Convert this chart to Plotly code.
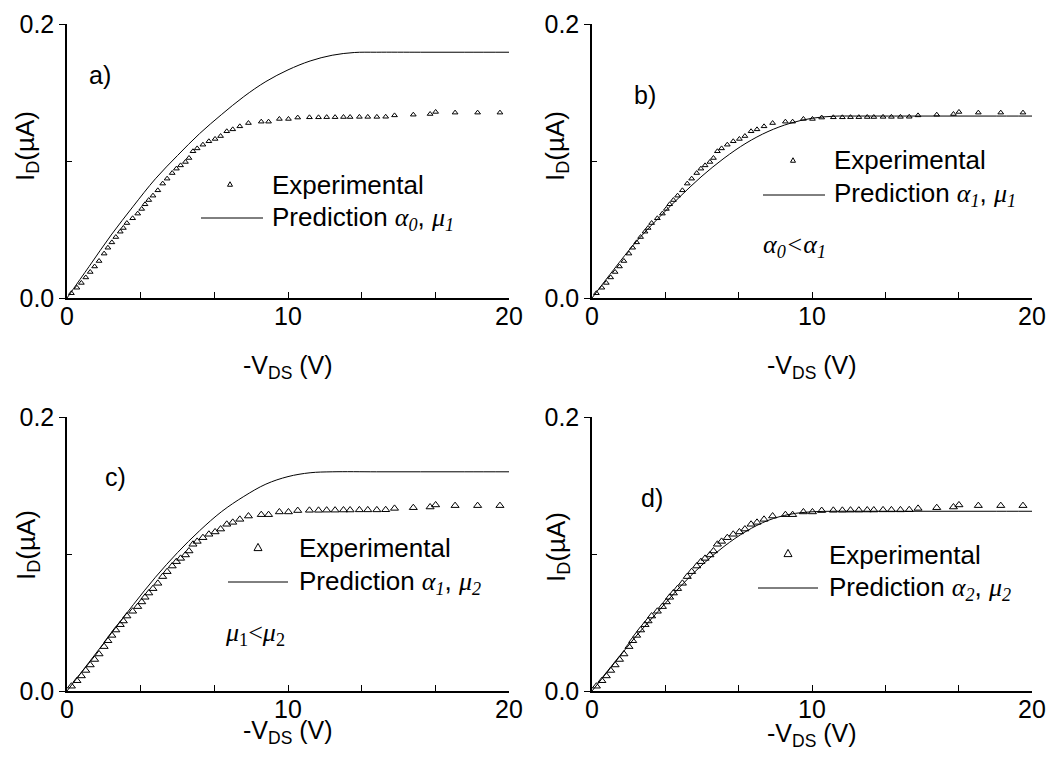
import plotly.graph_objects as go

W, H = 1064, 760

# ---------------- data ----------------
exp_v = [0.2, 0.45, 0.65, 0.85, 1.05, 1.25, 1.45, 1.68, 1.85, 2.03, 2.21, 2.41, 2.55, 2.71,
         2.97, 3.20, 3.38, 3.53, 3.70, 3.89, 4.11, 4.33, 4.53, 4.76, 4.95, 5.14, 5.36, 5.52,
         5.70, 5.89, 6.15, 6.42, 6.70, 6.95, 7.23, 7.50, 7.82, 8.21, 8.79, 9.12, 9.61, 10.02,
         10.44, 10.97, 11.38, 11.75, 12.13, 12.51, 12.81, 13.23, 13.61, 14.02, 14.42, 14.82,
         15.67, 16.43, 16.68, 17.56, 18.58, 19.59]
exp_i = [0.0035, 0.0075, 0.011, 0.015, 0.019, 0.023, 0.027, 0.0324, 0.0367, 0.0406, 0.0445,
         0.0484, 0.0511, 0.0547, 0.0582, 0.0616, 0.065, 0.0684, 0.0715, 0.0747, 0.0786, 0.0835,
         0.0871, 0.0912, 0.0944, 0.0968, 0.0993, 0.1022, 0.1071, 0.1092, 0.1119, 0.1144, 0.1161,
         0.1182, 0.1217, 0.1231, 0.1253, 0.1277, 0.1287, 0.1287, 0.1307, 0.1307, 0.1317, 0.1319,
         0.1319, 0.1320, 0.1320, 0.1321, 0.1321, 0.1322, 0.1322, 0.1322, 0.1323, 0.1333, 0.1338,
         0.1343, 0.1358, 0.1353, 0.1353, 0.1353]

pred_a_v = [0, 1, 2, 3, 4, 5, 6, 7, 8, 9, 10, 11, 12, 13, 14, 16, 18, 20]
pred_a_i = [0, 0.023, 0.046, 0.067, 0.087, 0.104, 0.120, 0.134, 0.147, 0.158, 0.1665, 0.1730,
            0.1772, 0.1792, 0.1794, 0.1794, 0.1794, 0.1794]
pred_b_v = [0, 1, 2, 3, 4, 5, 6, 7, 8, 9, 10, 11, 12, 14, 16, 18, 20]
pred_b_i = [0, 0.021, 0.041, 0.058, 0.074, 0.089, 0.102, 0.113, 0.1215, 0.1275, 0.1312, 0.1327,
            0.1328, 0.1328, 0.1328, 0.1328, 0.1328]
pred_c_v = [0, 1, 2, 3, 4, 5, 6, 7, 8, 9, 10, 11, 12, 14, 16, 18, 20]
pred_c_i = [0, 0.021, 0.042, 0.063, 0.083, 0.101, 0.117, 0.131, 0.142, 0.151, 0.1565, 0.1593,
            0.1600, 0.1600, 0.1600, 0.1600, 0.1600]
pred_d_v = [0, 1, 2, 3, 4, 5, 6, 7, 8, 9, 10, 11, 12, 14, 16, 18, 20]
pred_d_i = [0, 0.020, 0.040, 0.058, 0.076, 0.092, 0.1055, 0.1165, 0.1245, 0.1290, 0.1308, 0.1312,
            0.1312, 0.1312, 0.1312, 0.1312, 0.1312]

panel_labels = ["a)", "b)", "c)", "d)"]
pred_labels = [("0", "1"), ("1", "1"), ("1", "2"), ("2", "2")]

# ---------------- layout helpers ----------------
def px(x):
    return x / W

def py(y):
    return 1 - y / H

# plot areas in pixels: (left, right, top, bottom)
areas = [(67, 509, 24, 298), (592, 1032, 24, 298), (67, 509, 417, 691), (592, 1032, 417, 691)]

SANS = "Liberation Sans, Arial, sans-serif"
SERIF = "Liberation Serif, Times New Roman, serif"

fig = go.Figure()

preds = [(pred_a_v, pred_a_i), (pred_b_v, pred_b_i), (pred_c_v, pred_c_i), (pred_d_v, pred_d_i)]
msizes = [5, 5, 7, 7]

for k in range(4):
    xa = "x" if k == 0 else f"x{k+1}"
    ya = "y" if k == 0 else f"y{k+1}"
    fig.add_trace(go.Scatter(x=preds[k][0], y=preds[k][1], mode="lines", xaxis=xa, yaxis=ya,
                             line=dict(color="black", width=1, shape="spline", smoothing=1.0),
                             showlegend=False, hoverinfo="skip"))
    fig.add_trace(go.Scatter(x=exp_v, y=exp_i, mode="markers", xaxis=xa, yaxis=ya,
                             marker=dict(symbol="triangle-up-open", size=msizes[k], color="black",
                                         line=dict(color="black", width=1)),
                             showlegend=False, hoverinfo="skip"))

layout = dict(width=W, height=H, margin=dict(l=0, r=0, t=0, b=0, pad=0, autoexpand=False),
              template="none", autosize=False,
              paper_bgcolor="white", plot_bgcolor="white", showlegend=False)

for k, (l, r, t, b) in enumerate(areas):
    xk = "xaxis" if k == 0 else f"xaxis{k+1}"
    yk = "yaxis" if k == 0 else f"yaxis{k+1}"
    ya = "y" if k == 0 else f"y{k+1}"
    xa = "x" if k == 0 else f"x{k+1}"
    layout[xk] = dict(domain=[px(l), px(r)], range=[0, 20], anchor=ya, automargin=False,
                      showgrid=False, zeroline=False, showline=True, linecolor="black", linewidth=1.5,
                      tickmode="array", tickvals=[0, 10, 20], ticktext=["0", "10", "20"],
                      ticks="inside", ticklen=6, tickwidth=1, tickcolor="black",
                      ticklabelstandoff=-5,
                      minor=dict(tickmode="array", tickvals=[10/3, 20/3, 40/3, 50/3],
                                 ticks="inside", ticklen=6, tickwidth=1, tickcolor="black"),
                      tickfont=dict(family=SANS, size=25, color="black"), fixedrange=True)
    layout[yk] = dict(domain=[py(b), py(t)], range=[0, 0.2], anchor=xa, automargin=False,
                      showgrid=False, zeroline=False, showline=True, linecolor="black", linewidth=1.5,
                      tickmode="array", tickvals=[0, 0.2], ticktext=["0.0", "0.2"],
                      ticks="outside", ticklen=6, tickwidth=1, tickcolor="black",
                      minor=dict(tickmode="array", tickvals=[0.1],
                                 ticks="inside", ticklen=5, tickwidth=1, tickcolor="black"),
                      tickfont=dict(family=SANS, size=25, color="black"), fixedrange=True)

fig.update_layout(**layout)

ann = []
shapes = []

def text(x, y, s, size=24, xanchor="center", family=SANS, angle=0):
    ann.append(dict(x=px(x), y=py(y), xref="paper", yref="paper", text=s, showarrow=False,
                    xanchor=xanchor, yanchor="middle", textangle=angle,
                    font=dict(family=family, size=size, color="black")))

# axis titles
ytitle_pos = [(26, 146), (556, 146), (27, 545), (557, 547)]
xtitle_pos = [(288, 367), (812, 367), (288, 732), (812, 735)]
for k in range(4):
    text(*ytitle_pos[k], "I<sub>D</sub>(µA)", size=26, angle=-90)
    text(*xtitle_pos[k], "-V<sub>DS</sub> (V)", size=25)

# panel letters
letter_pos = [(100, 75), (645, 95), (115, 477), (652, 498)]
for k in range(4):
    text(*letter_pos[k], panel_labels[k], size=25)

# legends
leg = [  # triangle center, tri size, line x0, x1, line y, text x, y exp, y pred
    ((230, 184), 5, 201, 263, 218, 270, 185, 218),
    ((793, 160), 5, 763, 825, 195, 832, 160, 195),
    ((258, 547), 8, 228, 288, 582, 297, 548, 582),
    ((788, 553), 8, 758, 818, 588, 827, 555, 588),
]

def gk(s):
    return f'<span style="font-family:Liberation Serif;font-style:italic">{s}</span>'

for k, (tc, ts, lx0, lx1, ly, tx, ye, yp) in enumerate(leg):
    cx, cy = tc
    h = ts * 0.9
    path = (f"M{px(cx - ts/2)},{py(cy + h/2)} L{px(cx + ts/2)},{py(cy + h/2)} "
            f"L{px(cx)},{py(cy - h/2)} Z")
    shapes.append(dict(type="path", path=path, xref="paper", yref="paper",
                       line=dict(color="black", width=1), fillcolor="rgba(0,0,0,0)"))
    shapes.append(dict(type="line", xref="paper", yref="paper", x0=px(lx0), x1=px(lx1),
                       y0=py(ly), y1=py(ly), line=dict(color="black", width=1)))
    text(tx, ye, "Experimental", size=26, xanchor="left")
    a, m = pred_labels[k]
    text(tx, yp, "Prediction " + gk(f"α<sub>{a}</sub>") + ", " + gk(f"μ<sub>{m}</sub>"),
         size=26, xanchor="left")

# inequality notes
text(794, 246, gk("α<sub>0</sub><α<sub>1</sub>"), size=26, family=SERIF)
text(255, 634, '<i>μ</i><sub>1</sub><<i>μ</i><sub>2</sub>', size=26, family=SERIF)

fig.update_layout(annotations=ann, shapes=shapes)
fig.write_html("out.html",
               post_script="document.body.style.margin='0';document.body.style.padding='0';"
                           "document.documentElement.style.overflow='hidden';")
